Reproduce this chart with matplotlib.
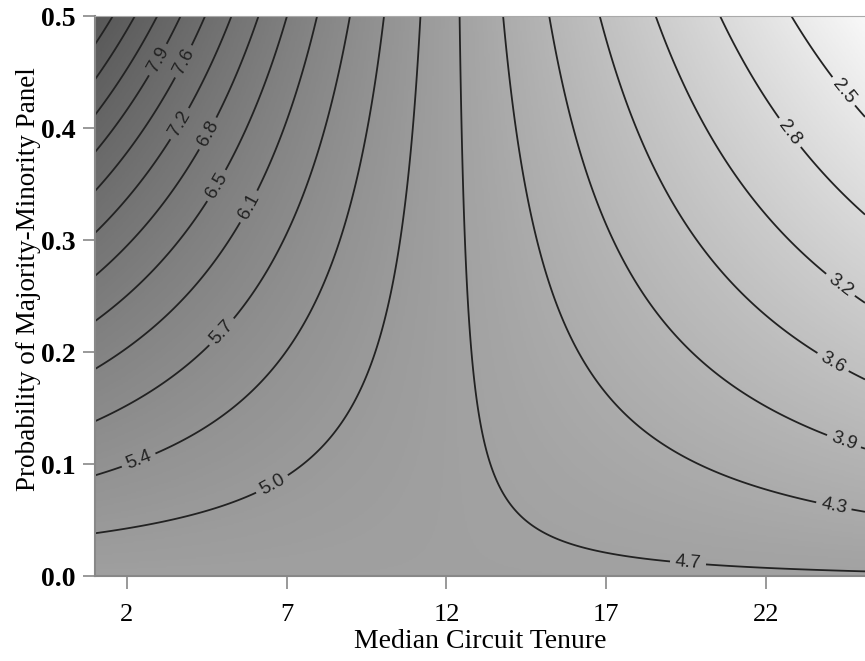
import numpy as np
import matplotlib
matplotlib.use("Agg")
import matplotlib.pyplot as plt
from matplotlib.colors import LinearSegmentedColormap, LogNorm

plt.rcParams["font.family"] = ["Liberation Serif", "DejaVu Serif"]

# log-linear model: exp(b0 + b1*x + b2*y + b3*x*y)
b_const = 1.563
b_tenure = -0.0007
b_prob = 1.46
b_inter = -0.1201

tenure_lim = (1.0, 25.1)
prob_lim = (0.0, 0.5)

levels = [2.48, 2.84, 3.21, 3.57, 3.93, 4.29, 4.66, 5.02, 5.38, 5.74,
          6.11, 6.47, 6.83, 7.19, 7.56, 7.92, 8.28, 8.64, 9.01]
labeled = levels[:16]
# where the inline labels sit (tenure, probability)
label_spots = [(24.4, 0.432), (22.1, 0.382), (24.2, 0.255), (24.1, 0.191),
               (24.4, 0.117), (24.1, 0.059), (19.55, 0.008), (6.6, 0.079),
               (2.4, 0.101), (5.0, 0.217), (6.0, 0.327), (4.9, 0.347),
               (4.6, 0.394), (3.7, 0.403), (3.8, 0.459), (2.16, 0.474)]

xticks = [2, 7, 12, 17, 22]
yticks = [0.0, 0.1, 0.2, 0.3, 0.4, 0.5]

x = np.linspace(tenure_lim[0], tenure_lim[1], 500)
y = np.linspace(prob_lim[0], prob_lim[1], 400)
X, Y = np.meshgrid(x, y)
Z = np.exp(b_const + b_tenure * X + b_prob * Y + b_inter * X * Y)

shade = LinearSegmentedColormap.from_list(
    "shade", [(0.0, "#f8f8f8"), (0.54, "#a0a0a0"), (1.0, "#585858")])

fig = plt.figure(figsize=(8.65, 6.61), dpi=100)
ax = fig.add_axes([95 / 865, 85 / 661, 770 / 865, 560 / 661])

ax.imshow(Z, extent=[*tenure_lim, *prob_lim], origin="lower", aspect="auto",
          cmap=shade, norm=LogNorm(vmin=Z.min(), vmax=Z.max()),
          interpolation="bilinear")
cs = ax.contour(X, Y, Z, levels=levels, colors="#222222", linewidths=1.3)
with plt.rc_context({"font.family": ["Liberation Sans", "DejaVu Sans"]}):
    ax.clabel(cs, labeled, inline=True, fmt="%.1f", fontsize=13.5,
              colors="#222222", manual=label_spots)

ax.set_xlim(*tenure_lim)
ax.set_ylim(*prob_lim)
ax.set_xticks(xticks)
ax.set_yticks(yticks)
ax.set_xticklabels([str(t) for t in xticks], fontsize=19)
ax.set_yticklabels([f"{t:.1f}" for t in yticks], fontsize=20, fontweight="bold")
ax.tick_params(direction="out", length=9, width=1.2, color="#888888")
ax.tick_params(axis="x", pad=11)
ax.tick_params(axis="y", pad=5)

for side in ["left", "bottom"]:
    ax.spines[side].set_color("#888888")
    ax.spines[side].set_linewidth(1.5)
ax.spines["top"].set_color("#aaaaaa")
ax.spines["right"].set_visible(False)

ax.set_xlabel("Median Circuit Tenure", fontsize=20, labelpad=2)
ax.set_ylabel("Probability of Majority-Minority Panel", fontsize=19.5)
ax.yaxis.set_label_coords(-0.07, 0.53)

fig.savefig("out.png", dpi=100)
